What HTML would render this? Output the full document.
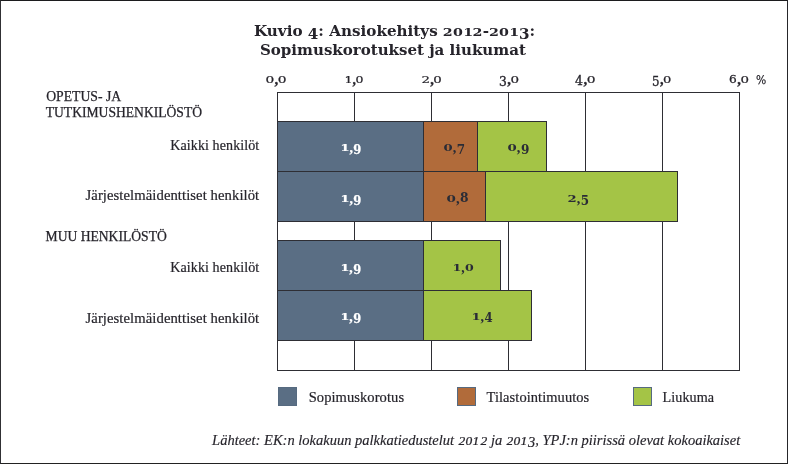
<!DOCTYPE html>
<html lang="fi"><head><meta charset="utf-8"><title>Kuvio 4: Ansiokehitys 2012-2013</title>
<style>
html,body{margin:0;padding:0;background:#fff;}
body{width:788px;height:464px;position:relative;overflow:hidden;font-family:"Liberation Serif", serif;color:#26242b;}
#frame{position:absolute;left:0;top:0;width:786px;height:462px;border:1px solid #232326;border-color:#1c1c1e #26262a #222 #303034;}
.v,.h,.seg,.sw{position:absolute;box-sizing:border-box;}
.v{width:1px;background:#2e2e34;top:92px;height:279px;}
.h{height:1px;background:#2e2e34;left:277px;width:463px;}
.seg{border:1px solid #2e2e34;height:51px;}
.blue{background:#5a6e84;}
.brown{background:#b16b3a;}
.green{background:#a4c446;}
.sw{width:19px;height:19px;top:387px;border:1px solid #566a80;}
.t{position:absolute;white-space:nowrap;line-height:1;margin:0;transform-origin:0 0;}
.x,.d,.c{display:inline-block;}
.x{transform:scale(1.1,.72);transform-origin:50% 84.6%;}
.o{transform:scale(1.12,.72);}
.s{transform:scale(1,.9);}
.d{transform:translateY(.25em);}
.f{transform:translateY(.2em);}
.c{font-family:'Liberation Serif',serif;font-weight:bold;font-size:1.2em;line-height:.1;margin:0 .03em;position:relative;top:.05em;}
.ft .x{font-size:.8em;transform:scaleX(1.16);margin:0 .07em;-webkit-text-stroke:.22px;}
.ft .d{transform:translateY(.17em);-webkit-text-stroke:.2px;}
.tt .x{transform:scale(.94,.73);margin:0 -.02em;}
.tt .d{transform:translateY(.2em);}
.tt .f{transform:translateY(.17em);}
.tt .c{font-size:1.2em}
</style></head>
<body>
<div id="frame"></div>
<div class="v" style="left:277px"></div>
<div class="v" style="left:354px"></div>
<div class="v" style="left:431px"></div>
<div class="v" style="left:508px"></div>
<div class="v" style="left:585px"></div>
<div class="v" style="left:662px"></div>
<div class="v" style="left:739px"></div>
<div class="h" style="top:92px"></div>
<div class="h" style="top:370px"></div>
<div class="seg blue" style="left:277px;top:121px;width:147px"></div>
<div class="seg brown" style="left:423px;top:121px;width:55px"></div>
<div class="seg green" style="left:477px;top:121px;width:70px"></div>
<div class="seg blue" style="left:277px;top:171px;width:147px"></div>
<div class="seg brown" style="left:423px;top:171px;width:63px"></div>
<div class="seg green" style="left:485px;top:171px;width:193px"></div>
<div class="seg blue" style="left:277px;top:240px;width:147px"></div>
<div class="seg green" style="left:423px;top:240px;width:78px"></div>
<div class="seg blue" style="left:277px;top:290px;width:147px"></div>
<div class="seg green" style="left:423px;top:290px;width:109px"></div>
<div class="sw blue" style="left:278px"></div>
<div class="sw brown" style="left:457px"></div>
<div class="sw green" style="left:633px"></div>
<div class="t tt" id="title1" aria-label="Kuvio 4: Ansiokehitys 2012-2013:" style="left:253.76px;top:24.0px;font-family:'DejaVu Serif', 'Liberation Serif', serif;font-size:14.8px;transform:scaleX(1.0243);font-weight:bold;">Kuvio <span class="d f">4</span>: Ansiokehitys <span class="x">2</span><span class="x">0</span><span class="x o">1</span><span class="x">2</span>-<span class="x">2</span><span class="x">0</span><span class="x o">1</span><span class="d">3</span>:</div>
<div class="t" id="title2" style="left:260.12px;top:42.5px;font-family:'DejaVu Serif', 'Liberation Serif', serif;font-size:14.8px;transform:scaleX(1.0153);font-weight:bold;">Sopimuskorotukset ja liukumat</div>
<div class="t ax" id="ax0" aria-label="0,0" style="left:266.44px;top:73.0px;font-family:'DejaVu Serif', 'Liberation Serif', serif;font-size:12.4px;transform:scaleX(1.0083);-webkit-text-stroke:.3px;"><span class="x">0</span><span class="c">,</span><span class="x">0</span></div>
<div class="t ax" id="ax1" aria-label="1,0" style="left:344.59px;top:73.0px;font-family:'DejaVu Serif', 'Liberation Serif', serif;font-size:12.4px;transform:scaleX(0.9153);-webkit-text-stroke:.3px;"><span class="x o">1</span><span class="c">,</span><span class="x">0</span></div>
<div class="t ax" id="ax2" aria-label="2,0" style="left:422.31px;top:73.0px;font-family:'DejaVu Serif', 'Liberation Serif', serif;font-size:12.4px;transform:scaleX(0.9768);-webkit-text-stroke:.3px;"><span class="x">2</span><span class="c">,</span><span class="x">0</span></div>
<div class="t ax" id="ax3" aria-label="3,0" style="left:498.52px;top:73.0px;font-family:'DejaVu Serif', 'Liberation Serif', serif;font-size:12.4px;transform:scaleX(0.9898);-webkit-text-stroke:.3px;"><span class="d">3</span><span class="c">,</span><span class="x">0</span></div>
<div class="t ax" id="ax4" aria-label="4,0" style="left:575.36px;top:73.0px;font-family:'DejaVu Serif', 'Liberation Serif', serif;font-size:12.4px;transform:scaleX(1.0122);-webkit-text-stroke:.3px;"><span class="d f">4</span><span class="c">,</span><span class="x">0</span></div>
<div class="t ax" id="ax5" aria-label="5,0" style="left:651.64px;top:73.0px;font-family:'DejaVu Serif', 'Liberation Serif', serif;font-size:12.4px;transform:scaleX(0.9563);-webkit-text-stroke:.3px;"><span class="d">5</span><span class="c">,</span><span class="x">0</span></div>
<div class="t ax" id="ax6" aria-label="6,0" style="left:728.98px;top:73.0px;font-family:'DejaVu Serif', 'Liberation Serif', serif;font-size:12.4px;transform:scaleX(0.9808);-webkit-text-stroke:.3px;"><span class="x s">6</span><span class="c">,</span><span class="x">0</span></div>
<div class="t ax" id="pct" aria-label="%" style="left:755.71px;top:73.5px;font-family:'DejaVu Serif', 'Liberation Serif', serif;font-size:12px;transform:scaleX(0.8993);-webkit-text-stroke:.2px;text-rendering:geometricPrecision;">%</div>
<div class="t" id="h1a" style="left:46.19px;top:89.91px;font-size:13.69px;-webkit-text-stroke:.25px;">OPETUS- JA</div>
<div class="t" id="h1b" style="left:45.74px;top:105.8px;font-size:13.6px;-webkit-text-stroke:.25px;">TUTKIMUSHENKILÖSTÖ</div>
<div class="t" id="l1" style="left:170.24px;top:138.0px;font-size:14.07px;letter-spacing:0.08px;-webkit-text-stroke:.2px;">Kaikki henkilöt</div>
<div class="t" id="l2" style="left:85.53px;top:188.0px;font-size:14.67px;letter-spacing:0.08px;-webkit-text-stroke:.2px;">Järjestelmäidenttiset henkilöt</div>
<div class="t" id="h2" style="left:45.56px;top:229.8px;font-size:13.6px;-webkit-text-stroke:.25px;">MUU HENKILÖSTÖ</div>
<div class="t" id="l3" style="left:170.24px;top:260.0px;font-size:14.07px;letter-spacing:0.08px;-webkit-text-stroke:.2px;">Kaikki henkilöt</div>
<div class="t" id="l4" style="left:85.53px;top:311.0px;font-size:14.67px;letter-spacing:0.08px;-webkit-text-stroke:.2px;">Järjestelmäidenttiset henkilöt</div>
<div class="t vl" id="v1a" aria-label="1,9" style="left:341.13px;top:141.41px;font-family:'DejaVu Serif', 'Liberation Serif', serif;font-size:12.1px;color:#fff;transform:scaleX(0.9522);font-weight:bold;-webkit-text-stroke:.25px;"><span class="x o">1</span><span class="c">,</span><span class="d">9</span></div>
<div class="t vl" id="v1b" aria-label="0,7" style="left:444.28px;top:141.41px;font-family:'DejaVu Serif', 'Liberation Serif', serif;font-size:12.1px;color:#2a2c36;transform:scaleX(0.9881);font-weight:bold;"><span class="x">0</span><span class="c">,</span><span class="d">7</span></div>
<div class="t vl" id="v1c" aria-label="0,9" style="left:508.22px;top:141.41px;font-family:'DejaVu Serif', 'Liberation Serif', serif;font-size:12.1px;color:#2a2c36;transform:scaleX(0.9986);font-weight:bold;"><span class="x">0</span><span class="c">,</span><span class="d">9</span></div>
<div class="t vl" id="v2a" aria-label="1,9" style="left:341.13px;top:191.91px;font-family:'DejaVu Serif', 'Liberation Serif', serif;font-size:12.1px;color:#fff;transform:scaleX(0.9522);font-weight:bold;-webkit-text-stroke:.25px;"><span class="x o">1</span><span class="c">,</span><span class="d">9</span></div>
<div class="t vl" id="v2b" aria-label="0,8" style="left:447.06px;top:191.91px;font-family:'DejaVu Serif', 'Liberation Serif', serif;font-size:12.1px;color:#2a2c36;transform:scaleX(1.0148);font-weight:bold;"><span class="x">0</span><span class="c">,</span>8</div>
<div class="t vl" id="v2c" aria-label="2,5" style="left:568.4px;top:191.91px;font-family:'DejaVu Serif', 'Liberation Serif', serif;font-size:12.1px;color:#2a2c36;transform:scaleX(0.9875);font-weight:bold;"><span class="x">2</span><span class="c">,</span><span class="d">5</span></div>
<div class="t vl" id="v3a" aria-label="1,9" style="left:340.88px;top:260.91px;font-family:'DejaVu Serif', 'Liberation Serif', serif;font-size:12.1px;color:#fff;transform:scaleX(0.9425);font-weight:bold;-webkit-text-stroke:.25px;"><span class="x o">1</span><span class="c">,</span><span class="d">9</span></div>
<div class="t vl" id="v3b" aria-label="1,0" style="left:453.49px;top:260.91px;font-family:'DejaVu Serif', 'Liberation Serif', serif;font-size:12.1px;color:#2a2c36;transform:scaleX(0.9468);font-weight:bold;"><span class="x o">1</span><span class="c">,</span><span class="x">0</span></div>
<div class="t vl" id="v4a" aria-label="1,9" style="left:340.88px;top:310.3px;font-family:'DejaVu Serif', 'Liberation Serif', serif;font-size:12.1px;color:#fff;transform:scaleX(0.9425);font-weight:bold;-webkit-text-stroke:.25px;"><span class="x o">1</span><span class="c">,</span><span class="d">9</span></div>
<div class="t vl" id="v4b" aria-label="1,4" style="left:472.18px;top:310.3px;font-family:'DejaVu Serif', 'Liberation Serif', serif;font-size:12.1px;color:#2a2c36;transform:scaleX(0.9741);font-weight:bold;"><span class="x o">1</span><span class="c">,</span><span class="d f">4</span></div>
<div class="t" id="lg1" style="left:308.65px;top:389.91px;font-size:14.53px;letter-spacing:0.08px;-webkit-text-stroke:.2px;">Sopimuskorotus</div>
<div class="t" id="lg2" style="left:486.55px;top:389.91px;font-size:14.44px;letter-spacing:0.08px;-webkit-text-stroke:.2px;">Tilastointimuutos</div>
<div class="t" id="lg3" style="left:662.52px;top:389.91px;font-size:14.17px;letter-spacing:0.08px;-webkit-text-stroke:.2px;">Liukuma</div>
<div class="t ft" id="foot" aria-label="Lähteet: EK:n lokakuun palkkatiedustelut 2012 ja 2013, YPJ:n piirissä olevat kokoaikaiset" style="left:212.1px;top:433.3px;font-size:14.5px;font-style:italic;-webkit-text-stroke:.15px;">Lähteet: EK:n lokakuun palkkatiedustelut <span class="x">2</span><span class="x">0</span><span class="x o">1</span><span class="x">2</span> ja <span class="x">2</span><span class="x">0</span><span class="x o">1</span><span class="d">3</span>, YPJ:n piirissä olevat kokoaikaiset</div>
</body></html>
